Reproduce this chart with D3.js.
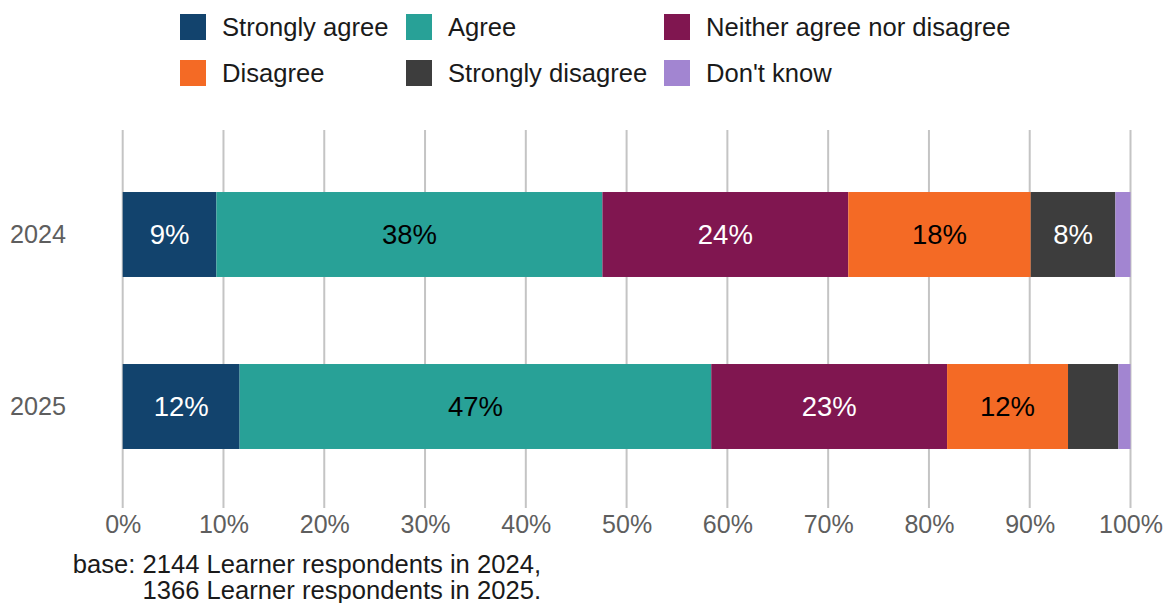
<!DOCTYPE html>
<html><head><meta charset="utf-8">
<script src="https://cdn.jsdelivr.net/npm/d3@7"></script>
<style>body{margin:0;background:#fff;font-family:"Liberation Sans",Arial,sans-serif;}</style>
</head><body>
<svg id="chart" width="1163" height="603"></svg>
<script>
const years = ["2024", "2025"];
const categories = ["Strongly agree", "Agree", "Neither agree nor disagree", "Disagree", "Strongly disagree", "Don't know"];
const colors = ["#12436D", "#28A197", "#801650", "#F46A25", "#3D3D3D", "#A285D1"];
const labelColors = ["#fff", "#000", "#fff", "#000", "#fff", "#fff"];
const values2024 = [9.3, 38.3, 24.4, 18.1, 8.4, 1.5];
const values2025 = [11.6, 46.8, 23.4, 12.0, 5.0, 1.2];
const xTicks = [0, 10, 20, 30, 40, 50, 60, 70, 80, 90, 100];
const captionLines = ["base: 2144 Learner respondents in 2024,", "1366 Learner respondents in 2025."];
const seriesByYear = {"2024": values2024, "2025": values2025};

const svg = d3.select("#chart");
const x = d3.scaleLinear().domain([0, 100]).range([122.7, 1130.5]);
const y = d3.scaleBand().domain(years).range([148.5, 492.5]).paddingInner(0.506).paddingOuter(0.253);
const font = "'Liberation Sans', Arial, sans-serif";

// gridlines
svg.append("g").selectAll("line").data(xTicks).join("line")
  .attr("x1", d => x(d)).attr("x2", d => x(d))
  .attr("y1", 130).attr("y2", 508)
  .attr("stroke", "#c4c4c4").attr("stroke-width", 2);

// x axis labels
const xAxis = d3.axisBottom(x).tickValues(xTicks).tickFormat(d => d + "%").tickSize(0).tickPadding(0);
const gx = svg.append("g").attr("transform", "translate(0,515)").call(xAxis);
gx.select(".domain").remove();
gx.selectAll("text").attr("font-family", font).attr("font-size", 25).attr("fill", "#5e5e5e").attr("dy", "0.71em");

// y axis labels
const yAxis = d3.axisLeft(y).tickSize(0).tickPadding(0);
const gy = svg.append("g").attr("transform", "translate(66,0)").call(yAxis);
gy.select(".domain").remove();
gy.selectAll("text").attr("font-family", font).attr("font-size", 25.2).attr("fill", "#5e5e5e");

// bars
years.forEach(yr => {
  const vals = seriesByYear[yr];
  let cum = 0;
  const segs = vals.map((v, i) => { const s = {i, v, x0: cum, x1: cum + v}; cum += v; return s; });
  const g = svg.append("g");
  g.selectAll("rect").data(segs).join("rect")
    .attr("x", d => x(d.x0)).attr("width", d => x(d.x1) - x(d.x0))
    .attr("y", y(yr)).attr("height", y.bandwidth())
    .attr("fill", d => colors[d.i]);
  g.selectAll("text").data(segs.filter(d => d.v >= 6)).join("text")
    .attr("x", d => x((d.x0 + d.x1) / 2)).attr("y", y(yr) + y.bandwidth() / 2)
    .attr("dy", "0.36em").attr("text-anchor", "middle")
    .attr("font-family", font).attr("font-size", 27.5)
    .attr("fill", d => labelColors[d.i])
    .text(d => Math.round(d.v) + "%");
});

// legend
const legendPos = [[180, 14], [406, 14], [664, 14], [180, 60], [406, 60], [664, 60]];
const lg = svg.append("g");
categories.forEach((c, i) => {
  const [lx, ly] = legendPos[i];
  lg.append("rect").attr("x", lx).attr("y", ly).attr("width", 26).attr("height", 26).attr("fill", colors[i]);
  lg.append("text").attr("x", lx + 42).attr("y", ly + 13).attr("dy", "0.36em")
    .attr("font-family", font).attr("font-size", 25.6).attr("fill", "#1a1a1a").text(c);
});

// caption
svg.append("g").selectAll("text").data(captionLines).join("text")
  .attr("x", 541).attr("y", (d, i) => 573 + i * 26)
  .attr("text-anchor", "end").attr("font-family", font).attr("font-size", 25.6)
  .attr("fill", "#1a1a1a").text(d => d);
</script>
</body></html>
